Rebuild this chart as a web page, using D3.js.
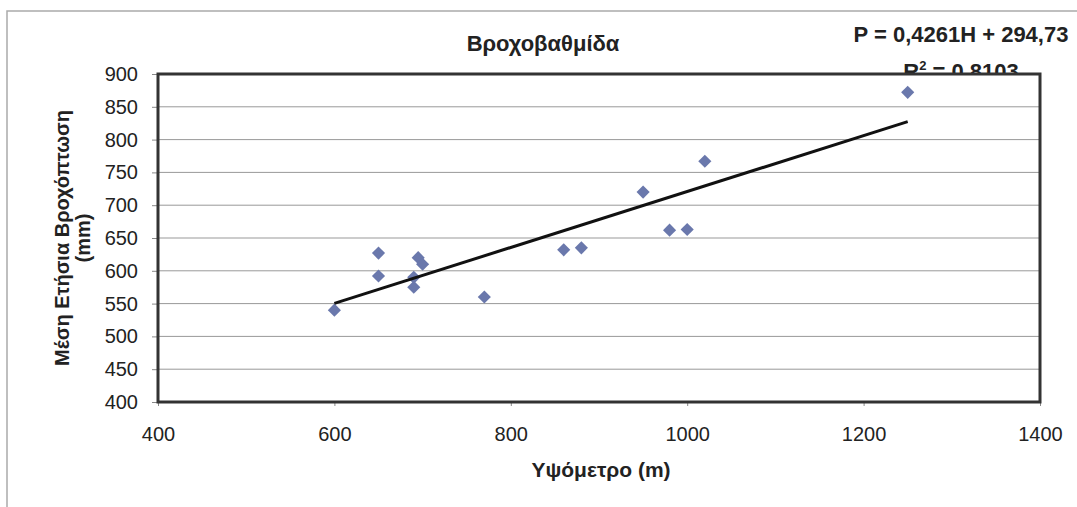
<!DOCTYPE html>
<html>
<head>
<meta charset="utf-8">
<script src="https://cdn.jsdelivr.net/npm/d3@7"></script>
<style>
  body { margin: 0; background: #fff; }
  text { font-family: "Liberation Sans", Arial, sans-serif; fill: #222; }
</style>
</head>
<body>
<div id="vis"></div>
<script>
// elevation (m) and mean annual rainfall (mm) of the stations
let altitude = [600, 650, 650, 690, 690, 695, 700, 770, 860, 880, 950, 980, 1000, 1020, 1250]
let rainfall = [540, 627, 592, 575, 590, 620, 610, 560, 632, 635, 720, 662, 663, 767, 872]
let xTicks = [400, 600, 800, 1000, 1200, 1400]
let yTicks = [400, 450, 500, 550, 600, 650, 700, 750, 800, 850, 900]
let slope = 0.4261, intercept = 294.73

let width = 1077, height = 507
let plot = {left: 158, right: 1040, top: 74, bottom: 402}

let svg = d3.select('#vis').append('svg')
  .attr('width', width).attr('height', height)

// outer chart frame
svg.append('rect')
  .attr('x', 7).attr('y', 11).attr('width', 1100).attr('height', 520)
  .attr('fill', 'none').attr('stroke', '#aaa').attr('stroke-width', 1.5)

let x = d3.scaleLinear().domain([400, 1400]).range([plot.left, plot.right])
let y = d3.scaleLinear().domain([400, 900]).range([plot.bottom, plot.top])

// title + trendline label (drawn before the plot area so it overlaps them)
svg.append('text').attr('x', 543).attr('y', 51)
  .attr('text-anchor', 'middle').style('font-size', '22px').style('font-weight', 'bold')
  .text('Βροχοβαθμίδα')
svg.append('text').attr('x', 961).attr('y', 42)
  .attr('text-anchor', 'middle').style('font-size', '22px').style('font-weight', 'bold')
  .text('P = 0,4261H + 294,73')
let r2 = svg.append('text').attr('x', 961).attr('y', 79)
  .attr('text-anchor', 'middle').style('font-size', '22px').style('font-weight', 'bold')
r2.append('tspan').text('R')
r2.append('tspan').attr('dy', -9).style('font-size', '13px').text('2')
r2.append('tspan').attr('dy', 9).text(' = 0,8103')

svg.append('rect')
  .attr('x', plot.left).attr('y', plot.top)
  .attr('width', plot.right - plot.left).attr('height', plot.bottom - plot.top)
  .attr('fill', '#fff')

// gridlines
svg.selectAll('.grid')
  .data(yTicks.slice(1, -1))
  .join('line')
  .attr('x1', plot.left).attr('x2', plot.right)
  .attr('y1', d => y(d)).attr('y2', d => y(d))
  .attr('stroke', '#999').attr('stroke-width', 1)

// axes
let xAxis = svg.append('g')
  .attr('transform', `translate(0,${plot.bottom})`)
  .call(d3.axisBottom(x).tickValues(xTicks).tickFormat(d3.format('d')).tickSize(4).tickPadding(21))
let yAxis = svg.append('g')
  .attr('transform', `translate(${plot.left},0)`)
  .call(d3.axisLeft(y).tickValues(yTicks).tickSize(6).tickPadding(14))
;[xAxis, yAxis].forEach(g => {
  g.select('.domain').remove()
  g.selectAll('line').attr('stroke', '#888')
  g.selectAll('text').style('font-size', '20px').attr('fill', '#222')
})

// plot frame
svg.append('rect')
  .attr('x', plot.left).attr('y', plot.top)
  .attr('width', plot.right - plot.left).attr('height', plot.bottom - plot.top)
  .attr('fill', 'none').attr('stroke', '#333').attr('stroke-width', 3)

// points
let diamond = d3.symbol().type(d3.symbolDiamond2).size(110)
svg.selectAll('.pt')
  .data(altitude.map((a, i) => [a, rainfall[i]]))
  .join('path')
  .attr('d', diamond)
  .attr('transform', d => `translate(${x(d[0])},${y(d[1])})`)
  .attr('fill', '#6a78ac')

// linear trendline
let xMin = d3.min(altitude), xMax = d3.max(altitude)
svg.append('line')
  .attr('x1', x(xMin)).attr('y1', y(slope * xMin + intercept))
  .attr('x2', x(xMax)).attr('y2', y(slope * xMax + intercept))
  .attr('stroke', '#111').attr('stroke-width', 3)

// axis titles
svg.append('text').attr('x', 601).attr('y', 477)
  .attr('text-anchor', 'middle').style('font-size', '21px').style('font-weight', 'bold')
  .text('Υψόμετρο (m)')
let yt = svg.append('text')
  .attr('transform', 'translate(69,238) rotate(-90)')
  .attr('text-anchor', 'middle').style('font-size', '20px').style('font-weight', 'bold')
yt.append('tspan').attr('x', 0).attr('dy', 0).text('Μέση Ετήσια Βροχόπτωση')
yt.append('tspan').attr('x', 0).attr('dy', 21).text('(mm)')
</script>
</body>
</html>
